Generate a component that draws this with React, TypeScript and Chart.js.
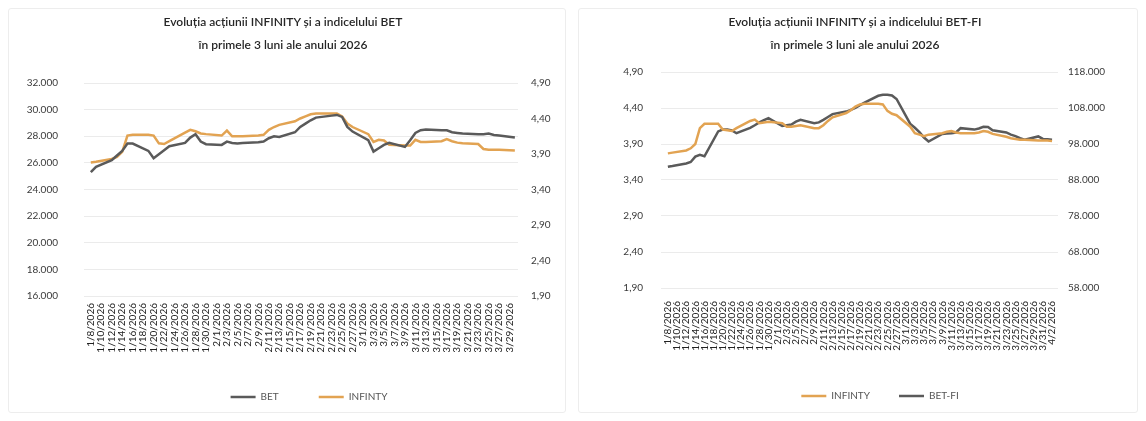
import React, { useEffect, useRef } from 'react';
import { Chart, registerables } from 'chart.js';

Chart.register(...registerables);

const FONT = "Lato, 'Open Sans', sans-serif";
const GRAY = '#5a5a5a';
const ORANGE = '#E2A352';
const TICK_COLOR = '#3a3a3a';

// ---------- Left chart: INFINITY vs BET ----------
const leftTitle = ['Evoluția acțiunii INFINITY și a indicelului BET', 'în primele 3 luni ale anului 2026'];
const leftDates = [
  '1/8/2026', '1/9/2026', '1/12/2026', '1/13/2026', '1/14/2026', '1/15/2026', '1/16/2026', '1/19/2026', '1/20/2026',
  '1/21/2026', '1/22/2026', '1/23/2026', '1/26/2026', '1/27/2026', '1/28/2026', '1/29/2026', '1/30/2026',
  '2/2/2026', '2/3/2026', '2/4/2026', '2/5/2026', '2/6/2026', '2/9/2026', '2/10/2026', '2/11/2026', '2/12/2026',
  '2/13/2026', '2/16/2026', '2/17/2026', '2/18/2026', '2/19/2026', '2/20/2026', '2/23/2026', '2/24/2026', '2/25/2026',
  '2/26/2026', '2/27/2026',
  '3/2/2026', '3/3/2026', '3/4/2026', '3/5/2026', '3/6/2026', '3/9/2026', '3/10/2026', '3/11/2026', '3/12/2026',
  '3/13/2026', '3/16/2026', '3/17/2026', '3/18/2026', '3/19/2026', '3/20/2026', '3/23/2026', '3/24/2026', '3/25/2026',
  '3/26/2026', '3/27/2026', '3/30/2026',
];
const leftLastLabel = '3/29/2026';
const betValues = [
  25300, 25700, 26200, 26550, 26900, 27450, 27450, 26900, 26350, 26650, 26950, 27250, 27500, 27900, 28150, 27600, 27400,
  27350, 27600, 27500, 27450, 27500, 27550, 27600, 27850, 28000, 27950, 28300, 28700, 28950, 29200, 29400, 29550, 29600,
  29450, 28700, 28350,
  27700, 26850, 27100, 27350, 27500, 27200, 27700, 28250, 28450, 28500, 28450, 28450, 28300, 28250, 28200, 28150, 28150,
  28200, 28100, 28050, 27900,
];
const infinityVsBet = [
  3.78, 3.79, 3.83, 3.86, 3.93, 4.16, 4.17, 4.17, 4.16, 4.05, 4.04, 4.08, 4.2, 4.24, 4.22, 4.19, 4.18,
  4.16, 4.23, 4.15, 4.15, 4.15, 4.16, 4.17, 4.24, 4.28, 4.31, 4.36, 4.4, 4.43, 4.46, 4.47, 4.47, 4.47, 4.43, 4.33, 4.28,
  4.18, 4.07, 4.1, 4.09, 4.03, 4.02, 4.02, 4.1, 4.07, 4.07, 4.08, 4.11, 4.08, 4.06, 4.05, 4.04, 3.97, 3.96, 3.96, 3.96,
  3.95,
];
const betAxis = { min: 16000, max: 32000, step: 2000 };
const infAxis = { min: 1.9, max: 4.9, step: 0.5 };

// ---------- Right chart: INFINITY vs BET-FI ----------
const rightTitle = ['Evoluția acțiunii INFINITY și a indicelului BET-FI', 'în primele 3 luni ale anului 2026'];
const rightDates = [...leftDates, '3/31/2026', '4/1/2026', '4/2/2026'];
const rightLastLabel = '4/2/2026';
const infinityVsBetFi = [
  3.77, 3.78, 3.81, 3.84, 3.9, 4.12, 4.18, 4.18, 4.1, 4.09, 4.08, 4.12, 4.22, 4.24, 4.19, 4.2, 4.21,
  4.19, 4.14, 4.14, 4.15, 4.16, 4.12, 4.12, 4.16, 4.22, 4.27, 4.33, 4.37, 4.42, 4.45, 4.46, 4.46, 4.45, 4.36, 4.32, 4.3,
  4.14, 4.05, 4.03, 4.01, 4.03, 4.05, 4.07, 4.08, 4.06, 4.05, 4.05, 4.06, 4.08, 4.07, 4.04, 4.0, 3.98, 3.97, 3.96, 3.96,
  3.95, 3.95, 3.95, 3.94,
];
const betFiValues = [
  91700, 91900, 92600, 93000, 94500, 95000, 94600, 101500, 102000, 102000, 101800, 101000, 102500, 103200, 104000, 104600,
  105200,
  103000, 103200, 103400, 104200, 104700, 103800, 104000, 104700, 105500, 106300, 107000, 107500, 108000, 108800, 109500,
  111400, 111700, 111700, 111500, 110500,
  103600, 102500, 101300, 99800, 98700, 100800, 100900, 101000, 101200, 102400, 102000, 102300, 102800, 102700, 101800,
  101200, 100600, 100200, 99600, 99200, 100100,
  99400, 99300, 99200,
];
const betFiAxis = { min: 58000, max: 118000, step: 10000 };

// ---------- helpers ----------
const START = Date.UTC(2026, 0, 8);
const DAY = 86400000;
function toDay(s: string): number {
  const [m, d, y] = s.split('/').map(Number);
  return Math.round((Date.UTC(y, m - 1, d) - START) / DAY);
}
function dayLabel(n: number): string {
  const dt = new Date(START + Math.round(n) * DAY);
  return `${dt.getUTCMonth() + 1}/${dt.getUTCDate()}/${dt.getUTCFullYear()}`;
}
const thousands = (v: number) => String(Math.round(v)).replace(/\B(?=(\d{3})+(?!\d))/g, '.');
const decimals = (v: number) => v.toFixed(2).replace('.', ',');
const series = (dates: string[], values: number[]) => dates.map((d, i) => ({ x: toDay(d), y: values[i] }));

interface AxisDef { min: number; max: number; step: number; fmt: (v: number) => string; grid: boolean; width: number; pad: number }
interface Cfg {
  top: number;
  datasets: any[];
  xMin: number;
  xMax: number;
  lastLabel: string;
  xHeight: number;
  xPad: number;
  legendPad: number;
  y: AxisDef;
  y1: AxisDef;
}

function yScale(a: AxisDef, position: 'left' | 'right') {
  return {
    type: 'linear',
    position,
    min: a.min,
    max: a.max,
    afterFit: (s: any) => { s.width = a.width; },
    grid: { display: a.grid, color: '#ebebeb', lineWidth: 1, drawTicks: false },
    border: { display: false },
    ticks: {
      stepSize: a.step,
      padding: a.pad,
      color: TICK_COLOR,
      font: { family: FONT, size: 10 },
      callback: (v: any) => a.fmt(Number(v)),
    },
  };
}

function makeConfig(c: Cfg): any {
  const last = toDay(c.lastLabel);
  return {
    type: 'line',
    data: { datasets: c.datasets },
    options: {
      responsive: false,
      animation: false,
      events: [],
      layout: { padding: { top: c.top, left: 0, right: 0, bottom: 0 } },
      elements: { point: { radius: 0 }, line: { tension: 0 } },
      plugins: {
        tooltip: { enabled: false },
        title: { display: false },
        legend: {
          position: 'bottom',
          labels: {
            usePointStyle: true,
            pointStyle: 'line',
            pointStyleWidth: 25,
            padding: c.legendPad,
            color: '#555',
            font: { family: FONT, size: 10 },
          },
        },
      },
      scales: {
        x: {
          type: 'linear',
          min: c.xMin,
          max: c.xMax,
          afterFit: (s: any) => { s.height = c.xHeight; },
          afterBuildTicks: (s: any) => {
            s.ticks = s.ticks.filter((t: any) => t.value >= 0 && t.value <= last && Math.round(t.value) % 2 === 0);
          },
          grid: { display: false, drawTicks: false },
          border: { display: false },
          ticks: {
            stepSize: 2,
            includeBounds: false,
            autoSkip: false,
            maxRotation: 90,
            minRotation: 90,
            padding: c.xPad,
            color: '#222',
            font: { family: FONT, size: 10 },
            callback: (v: any) => dayLabel(Number(v)),
          },
        },
        y: yScale(c.y, 'left'),
        y1: yScale(c.y1, 'right'),
      },
    },
  };
}

function line(label: string, color: string, data: any[], axis: string) {
  return {
    label,
    data,
    yAxisID: axis,
    borderColor: color,
    backgroundColor: color,
    borderWidth: 2.5,
    pointRadius: 0,
    pointStyle: 'line',
    spanGaps: true,
  };
}

const leftConfig = () =>
  makeConfig({
    top: 75,
    datasets: [
      line('BET', GRAY, series(leftDates, betValues), 'y'),
      line('INFINTY', ORANGE, series(leftDates, infinityVsBet), 'y1'),
    ],
    xMin: -1.3,
    xMax: 81.6,
    lastLabel: leftLastLabel,
    xHeight: 56,
    xPad: 7,
    legendPad: 40,
    y: { ...betAxis, fmt: thousands, grid: true, width: 76, pad: 26 },
    y1: { ...infAxis, fmt: decimals, grid: false, width: 92, pad: 13 },
  });

const rightConfig = () =>
  makeConfig({
    top: 64,
    datasets: [
      line('INFINTY', ORANGE, series(rightDates, infinityVsBetFi), 'y'),
      line('BET-FI', GRAY, series(rightDates, betFiValues), 'y1'),
    ],
    xMin: -1.5,
    xMax: 85.3,
    lastLabel: rightLastLabel,
    xHeight: 74,
    xPad: 13,
    legendPad: 29,
    y: { ...infAxis, fmt: decimals, grid: true, width: 71, pad: 18 },
    y1: { ...betFiAxis, fmt: thousands, grid: false, width: 112, pad: 10 },
  });

function ChartCanvas({ make, left, width, height }: { make: () => any; left: number; width: number; height: number }) {
  const ref = useRef<HTMLCanvasElement>(null);
  useEffect(() => {
    const chart = new Chart(ref.current as HTMLCanvasElement, make());
    return () => chart.destroy();
  }, [make]);
  return (
    <canvas
      ref={ref}
      width={width}
      height={height}
      style={{ position: 'absolute', left, top: 0, width, height, display: 'block' }}
    />
  );
}

function Title({ lines, center }: { lines: string[]; center: number }) {
  return (
    <div
      style={{
        position: 'absolute',
        left: center - 200,
        width: 400,
        top: 2,
        textAlign: 'center',
        fontFamily: FONT,
        fontSize: 12,
        fontWeight: 600,
        lineHeight: '23px',
        color: '#262626',
        whiteSpace: 'nowrap',
      }}
    >
      {lines.map((l) => (
        <div key={l}>{l}</div>
      ))}
    </div>
  );
}

export default function App() {
  return (
    <div style={{ position: 'relative', width: 1130, height: 405, overflow: 'hidden', background: '#fff' }}>
      <div style={{ position: 'absolute', left: 0, top: 0, width: 556, height: 403, border: '1px solid #ededed', borderRadius: 3 }} />
      <div style={{ position: 'absolute', left: 570, top: 0, width: 558, height: 403, border: '1px solid #ededed', borderRadius: 3 }} />
      <ChartCanvas make={leftConfig} left={0} width={602} height={404} />
      <ChartCanvas make={rightConfig} left={582} width={580} height={403} />
      <Title lines={leftTitle} center={275} />
      <Title lines={rightTitle} center={847} />
    </div>
  );
}
